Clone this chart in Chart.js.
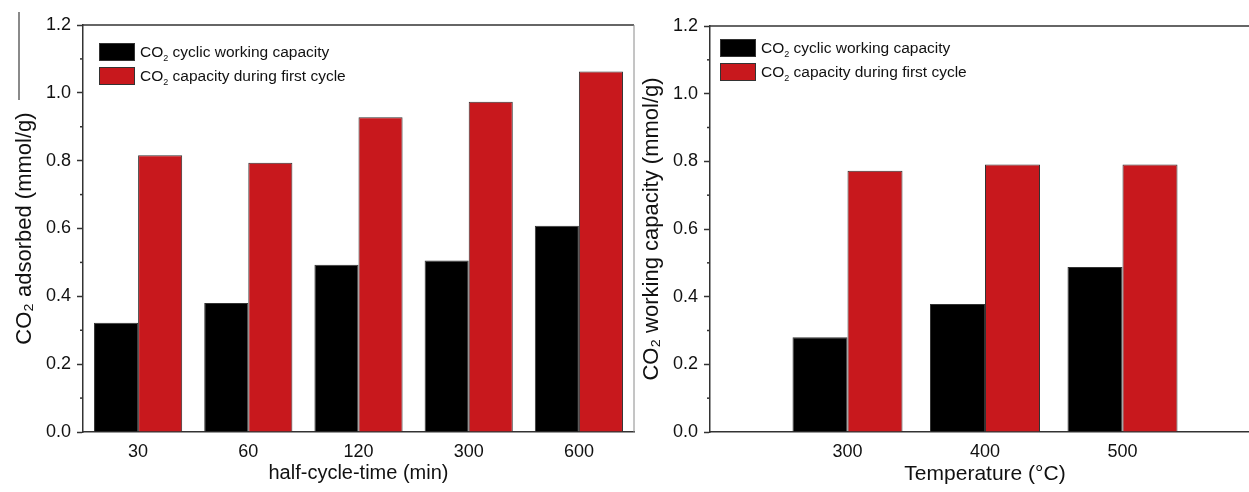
<!DOCTYPE html>
<html>
<head>
<meta charset="utf-8">
<script src="https://cdn.jsdelivr.net/npm/chart.js@4"></script>
<style>
  html, body { margin: 0; padding: 0; background: #fff; overflow: hidden; width: 1249px; height: 492px; }
  .panel { position: absolute; top: 0; }
  .crop-edge { position: absolute; left: 18px; top: 12px; width: 1.5px; height: 88px; background: #8a8a8a; }
  .legend { position: absolute; font-family: 'Liberation Sans', Arial, sans-serif; font-size: 15.5px; color: #111; }
  .legend .row { display: flex; align-items: center; height: 24px; white-space: nowrap; }
  .legend .box { width: 36px; height: 18px; border: 1px solid #333; box-sizing: border-box; margin-right: 5px; }
  .legend sub { font-size: 9px; line-height: 0; }
</style>
</head>
<body>
<div class="crop-edge"></div>
<div class="panel" style="left:0"><canvas id="timeChart" width="640" height="492"></canvas></div>
<div class="panel" style="left:640px"><canvas id="tempChart" width="640" height="492"></canvas></div>
<div class="legend" id="timeLegend" style="left:99px; top:40px"></div>
<div class="legend" id="tempLegend" style="left:720px; top:36px"></div>
<script>
// left panel: half-cycle time
const halfCycleTimes = ['30', '60', '120', '300', '600'];
const cyclicByTime = [0.322, 0.380, 0.493, 0.506, 0.608];
const firstCycleByTime = [0.816, 0.794, 0.928, 0.974, 1.063];

// right panel: temperature
const temperatures = [300, 400, 500];
const cyclicByTemp = [0.280, 0.378, 0.488];
const firstCycleByTemp = [0.772, 0.791, 0.791];

const seriesNames = ['CO₂ cyclic working capacity', 'CO₂ capacity during first cycle'];
const seriesColors = ['#000000', '#c8181d'];
const yTicks = [0, 0.2, 0.4, 0.6, 0.8, 1.0, 1.2];

Chart.defaults.font.family = "'Liberation Sans', Arial, sans-serif";
Chart.defaults.color = '#111';

// top line, right border and minor ticks like the Origin frame
const framePlugin = {
  id: 'frame',
  afterDraw(chart, args, opts) {
    const ctx = chart.ctx, a = chart.chartArea, y = chart.scales.y;
    ctx.save();
    ctx.strokeStyle = '#333';
    ctx.lineWidth = 1.5;
    const t = y.ticks;
    for (let i = 0; i < t.length - 1; i++) {
      const py = y.getPixelForValue((t[i].value + t[i + 1].value) / 2);
      ctx.beginPath(); ctx.moveTo(a.left - 3, py); ctx.lineTo(a.left, py); ctx.stroke();
    }
    ctx.beginPath(); ctx.moveTo(a.left, a.top); ctx.lineTo(a.right, a.top); ctx.stroke();
    if (opts.rightBorder) {
      ctx.strokeStyle = '#8a8a8a';
      ctx.lineWidth = 1;
      ctx.beginPath(); ctx.moveTo(a.right, a.top); ctx.lineTo(a.right, a.bottom); ctx.stroke();
    }
    ctx.restore();
  }
};

function barSets(values) {
  return values.map((data, i) => ({
    label: seriesNames[i],
    data: data,
    backgroundColor: seriesColors[i],
    borderColor: '#333',
    borderWidth: 1,
    categoryPercentage: 0.8,
    barPercentage: 1.0
  }));
}

function yScale(title, width, titlePad) {
  return {
    min: 0, max: 1.2,
    afterBuildTicks: s => { s.ticks = yTicks.map(v => ({ value: v })); },
    ticks: { callback: v => v.toFixed(1), padding: 6, font: { size: 18 }, color: '#111' },
    grid: { drawOnChartArea: false, drawTicks: true, tickLength: 6, tickColor: '#333', tickWidth: 1.5 },
    border: { color: '#333', width: 1.5 },
    title: { display: true, text: title, font: { size: 22, lineHeight: 1 }, color: '#111', padding: { top: titlePad, bottom: 0 } },
    afterFit: s => { s.width = width; }
  };
}

function xCommon(title, size, titlePad) {
  return {
    offset: true,
    ticks: { padding: 9, font: { size: 18 }, color: '#111' },
    grid: { drawOnChartArea: false, drawTicks: false },
    border: { color: '#333', width: 1.5 },
    title: { display: true, text: title, font: { size: size }, color: '#111', padding: { top: 0, bottom: titlePad } },
    afterFit: s => { s.height = 60; }
  };
}

new Chart(document.getElementById('timeChart'), {
  type: 'bar',
  data: { labels: halfCycleTimes, datasets: barSets([cyclicByTime, firstCycleByTime]) },
  options: {
    responsive: false,
    animation: false,
    layout: { padding: { left: 0, top: 25, right: 6, bottom: 0 } },
    plugins: { legend: { display: false }, tooltip: { enabled: false }, frame: { rightBorder: true } },
    scales: {
      x: xCommon('half-cycle-time (min)', 20, 7),
      y: yScale('CO₂ adsorbed (mmol/g)', 83, 14)
    }
  },
  plugins: [framePlugin]
});

const tempX = xCommon('Temperature (°C)', 21, 5);
tempX.type = 'linear';
tempX.min = 200;
tempX.max = 600;
tempX.offset = false;
tempX.afterBuildTicks = s => { s.ticks = temperatures.map(v => ({ value: v })); };

new Chart(document.getElementById('tempChart'), {
  type: 'bar',
  data: {
    datasets: barSets([cyclicByTemp, firstCycleByTemp].map(vals => temperatures.map((t, i) => ({ x: t, y: vals[i] }))))
  },
  options: {
    responsive: false,
    animation: false,
    layout: { padding: { left: 0, top: 26, right: 20, bottom: 0 } },
    plugins: { legend: { display: false }, tooltip: { enabled: false }, frame: { rightBorder: false } },
    scales: {
      x: tempX,
      y: yScale('CO₂ working capacity (mmol/g)', 70, 0.5)
    }
  },
  plugins: [framePlugin]
});

// legends drawn as html boxes inside the plot areas
function buildLegend(id) {
  const el = document.getElementById(id);
  seriesNames.forEach((name, i) => {
    const row = document.createElement('div');
    row.className = 'row';
    const box = document.createElement('span');
    box.className = 'box';
    box.style.background = seriesColors[i];
    const txt = document.createElement('span');
    txt.innerHTML = name.replace('₂', '<sub>2</sub>');
    row.appendChild(box);
    row.appendChild(txt);
    el.appendChild(row);
  });
}
buildLegend('timeLegend');
buildLegend('tempLegend');
</script>
</body>
</html>
